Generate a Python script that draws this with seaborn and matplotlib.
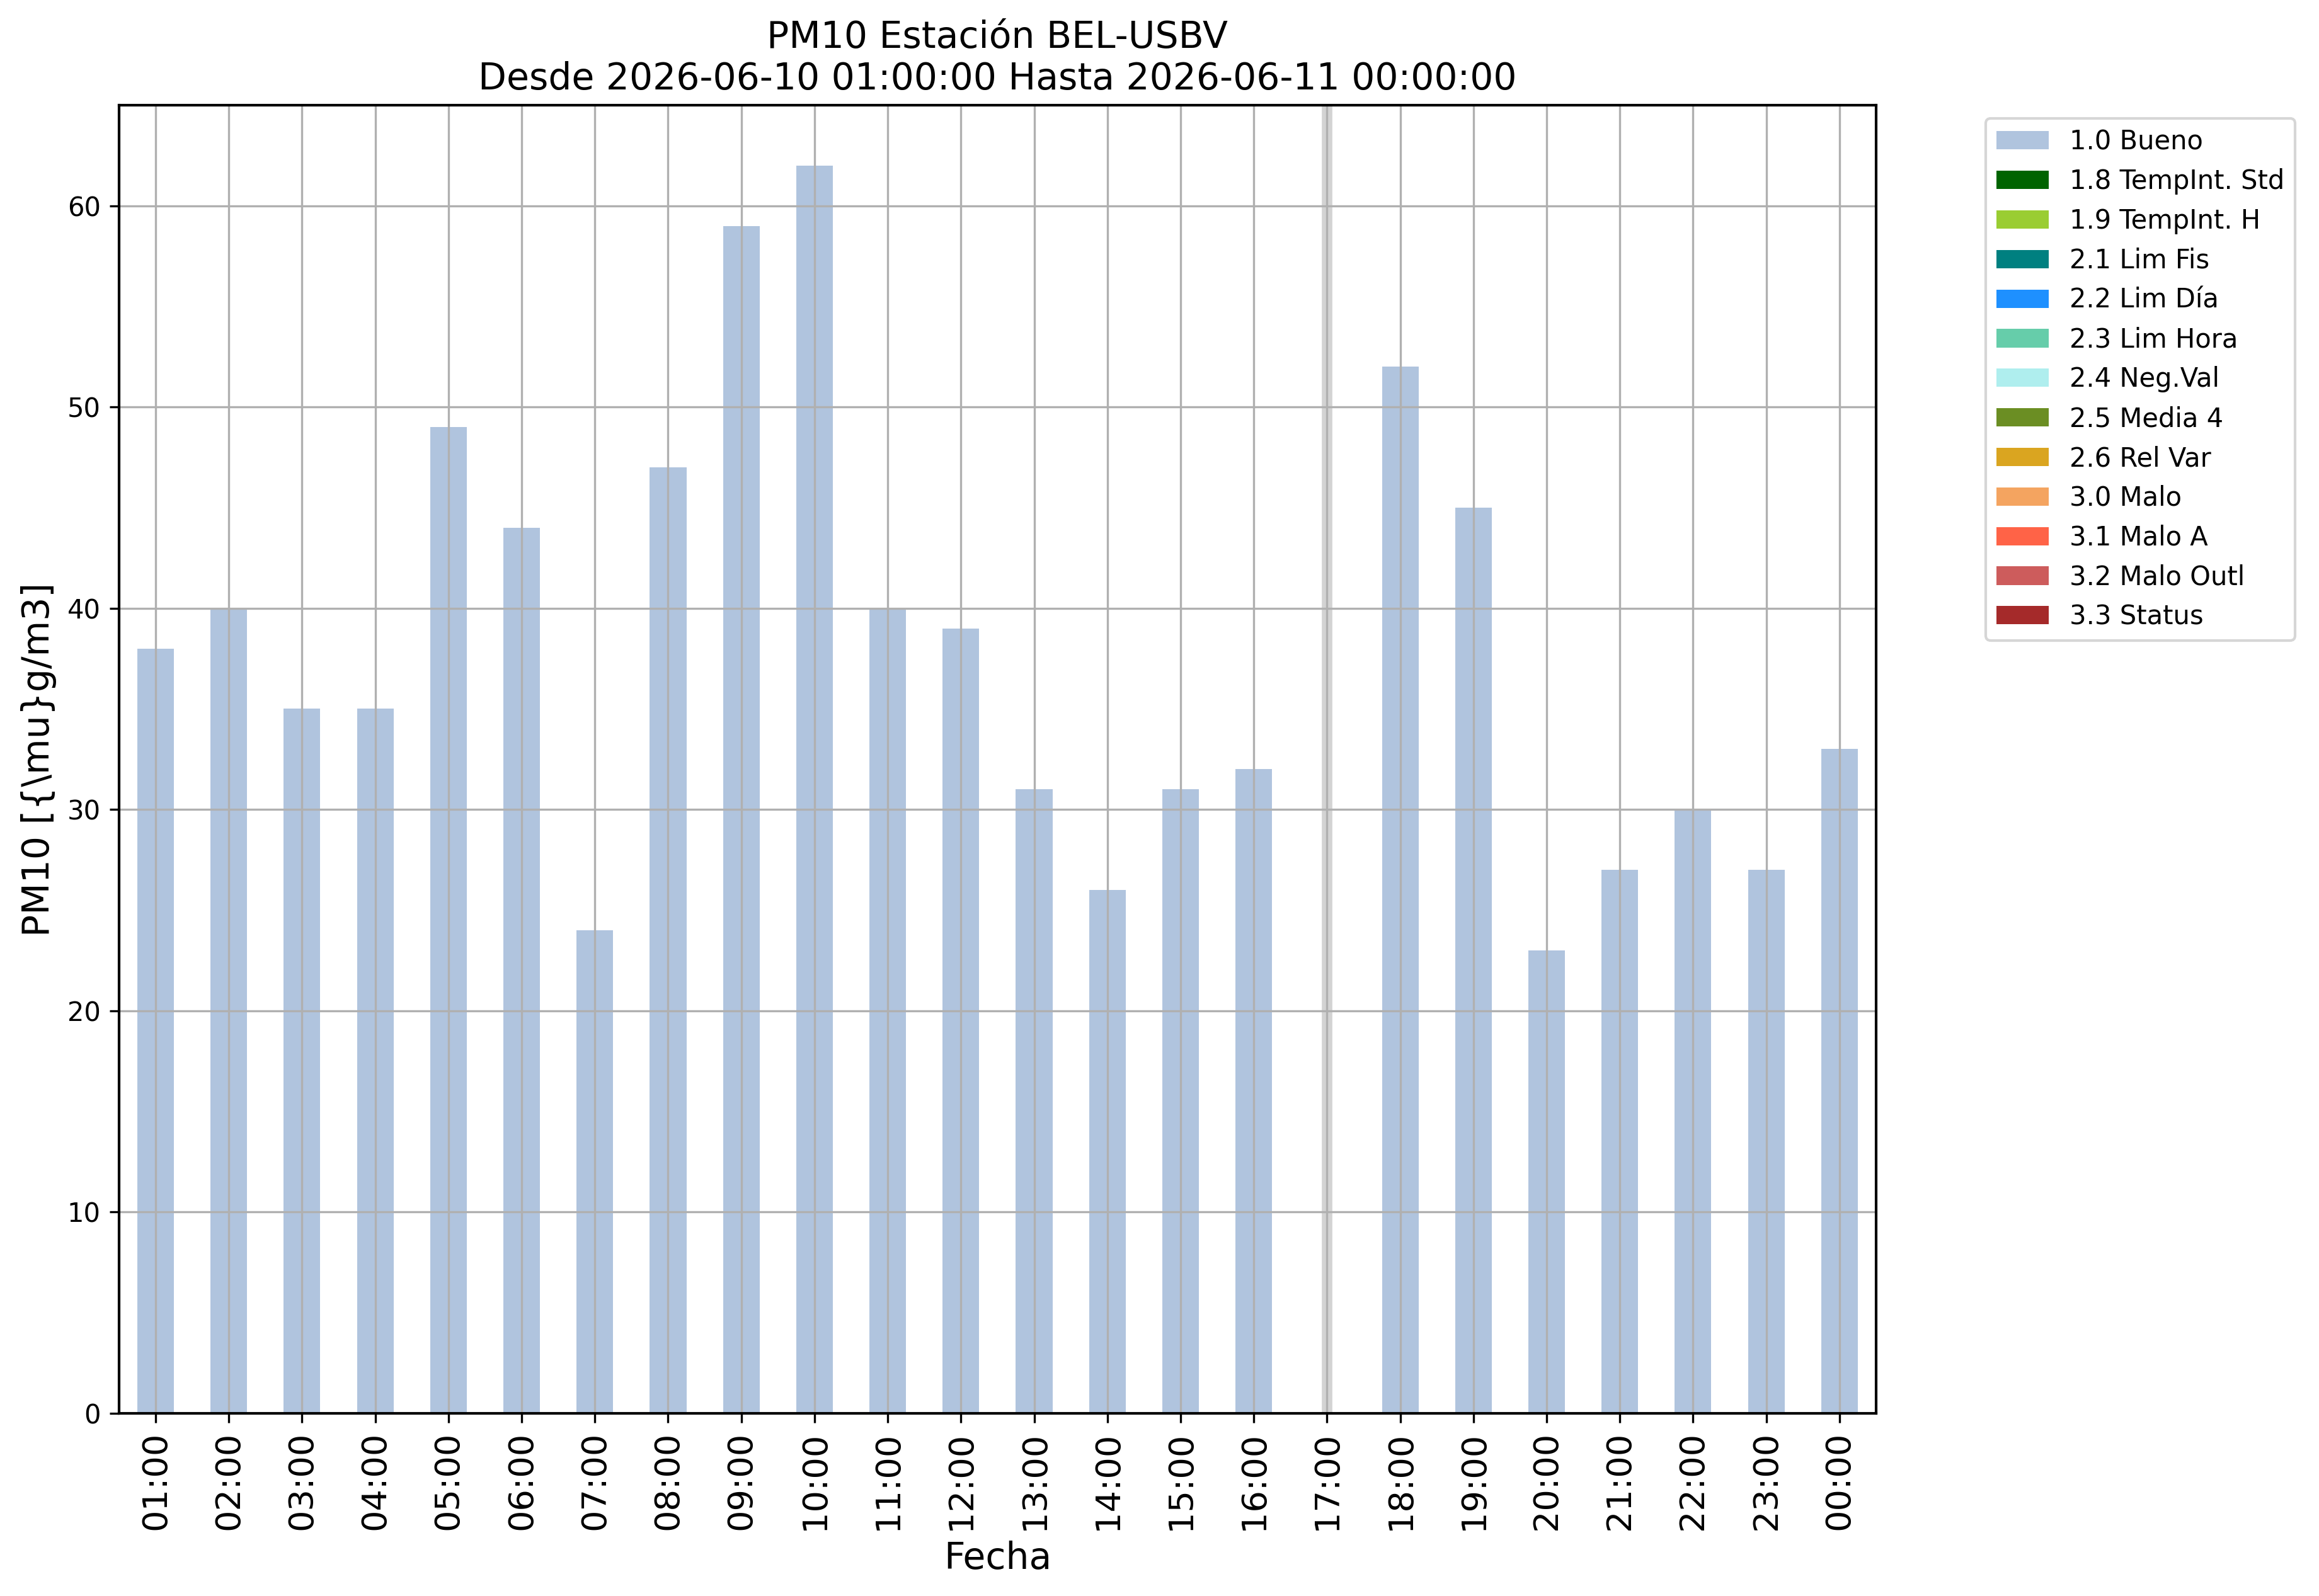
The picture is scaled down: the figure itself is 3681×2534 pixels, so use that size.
### pm10 hourly bar chart for station BEL-USBV
#   bars coloured by validation flag, missing hour marked with a grey line

# import statements
import matplotlib
matplotlib.use('Agg')
from matplotlib.patches import Patch
import matplotlib.pyplot as plt
import numpy as np
import pandas as pd
import seaborn as sns

# hours shown on the x axis
hours = ['01:00', '02:00', '03:00', '04:00', '05:00', '06:00', '07:00',
         '08:00', '09:00', '10:00', '11:00', '12:00', '13:00', '14:00',
         '15:00', '16:00', '17:00', '18:00', '19:00', '20:00', '21:00',
         '22:00', '23:00', '00:00']

# pm10 values, 17:00 is missing
pm10 = [38, 40, 35, 35, 49, 44, 24, 47, 59, 62, 40, 39, 31, 26, 31, 32,
        np.nan, 52, 45, 23, 27, 30, 27, 33]

# validation flags and their colours
flags = ['1.0 Bueno', '1.8 TempInt. Std', '1.9 TempInt. H', '2.1 Lim Fis',
         '2.2 Lim Día', '2.3 Lim Hora', '2.4 Neg.Val', '2.5 Media 4',
         '2.6 Rel Var', '3.0 Malo', '3.1 Malo A', '3.2 Malo Outl',
         '3.3 Status']
flag_colors = ['lightsteelblue', 'darkgreen', 'yellowgreen', 'teal',
               'dodgerblue', 'mediumaquamarine', 'paleturquoise',
               'olivedrab', 'goldenrod', 'sandybrown', 'tomato',
               'indianred', 'brown']

# flag of every hour (all valid here)
hour_flag = ['1.0 Bueno'] * len(hours)

# create dataset
df = pd.DataFrame({'hora': hours, 'pm10': pm10, 'flag': hour_flag})

# figure
fig = plt.figure(figsize = (12.273, 8.447), dpi = 300)
ax = fig.add_axes([0.0513, 0.1145, 0.7575, 0.8196])

palette = dict(zip(flags, flag_colors))
sns.barplot(data = df, x = 'hora', y = 'pm10', hue = 'flag', order = hours,
            hue_order = ['1.0 Bueno'], palette = palette, width = 0.5,
            saturation = 1, errorbar = None, legend = False, ax = ax)

# mark the missing hour
missing = df.index[df['pm10'].isna()]
for i in missing:
    ax.axvline(i, color = 'lightgrey', lw = 4, zorder = 1)

# grid on top of the bars, seaborn switches the x grid off
ax.grid(True, color = '#b0b0b0', lw = 0.8)
ax.set_axisbelow('line')

ax.set_xlim(-0.5, len(hours) - 0.5)
ax.set_ylim(0, 65)
ax.set_yticks(range(0, 61, 10))
ax.tick_params(axis = 'x', labelsize = 13, labelrotation = 90)
ax.tick_params(axis = 'y', labelsize = 10)

ax.set_xlabel('Fecha', fontsize = 14)
ax.set_ylabel('PM10 [{\\mu}g/m3]', fontsize = 14)
ax.set_title('PM10 Estación BEL-USBV\nDesde 2026-06-10 01:00:00 '
             'Hasta 2026-06-11 00:00:00', fontsize = 14)

for spine in ax.spines.values():
    spine.set_color('black')
    spine.set_linewidth(1.0)

# legend with every flag
handles = [Patch(facecolor = c, label = f)
           for f, c in zip(flags, flag_colors)]
ax.legend(handles = handles, bbox_to_anchor = (1.055, 1), loc = 'upper left',
          fontsize = 10)

fig.savefig('out.png', dpi = 300)
